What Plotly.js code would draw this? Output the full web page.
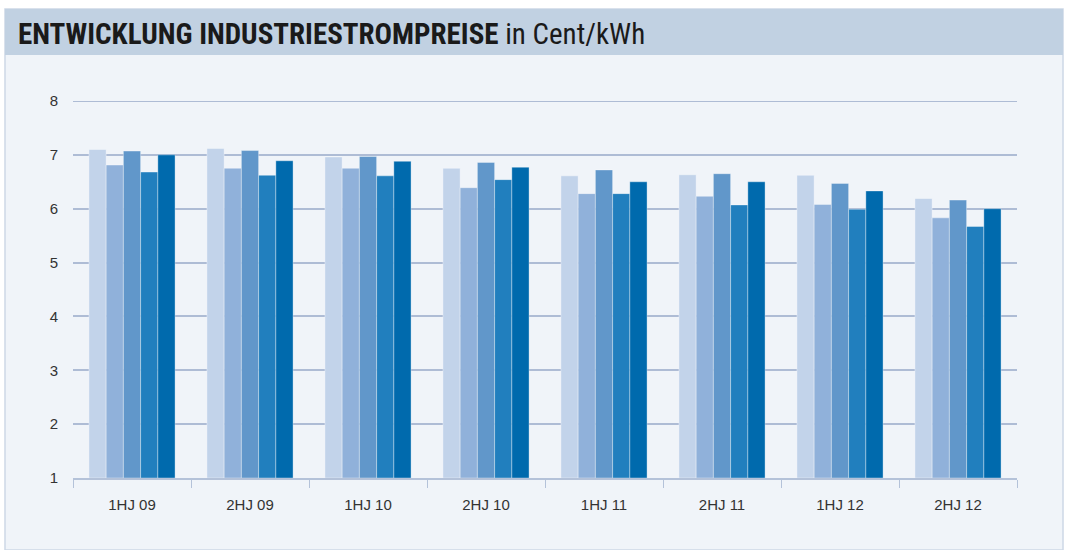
<!DOCTYPE html>
<html>
<head>
<meta charset="utf-8">
<script src="https://cdn.plot.ly/plotly-3.0.1.min.js"></script>
<style>
html,body{margin:0;padding:0;background:#ffffff;}
#chart{width:1069px;height:550px;}
</style>
</head>
<body>
<div id="chart"></div>
<script>
// Data
const categories = ["1HJ 09","2HJ 09","1HJ 10","2HJ 10","1HJ 11","2HJ 11","1HJ 12","2HJ 12"];
const series1 = [7.10, 7.12, 6.96, 6.75, 6.61, 6.63, 6.62, 6.19];
const series2 = [6.81, 6.75, 6.75, 6.39, 6.28, 6.23, 6.08, 5.83];
const series3 = [7.07, 7.08, 6.97, 6.86, 6.72, 6.65, 6.47, 6.16];
const series4 = [6.68, 6.62, 6.61, 6.54, 6.28, 6.07, 5.99, 5.67];
const series5 = [7.00, 6.89, 6.88, 6.77, 6.50, 6.50, 6.33, 6.00];
const yTicks = [1,2,3,4,5,6,7,8];

const allSeries = [series1, series2, series3, series4, series5];
const colors = ["#c2d3ea", "#90b1da", "#6197ca", "#217fbe", "#006aad"];

const W = 1069, H = 550;
const L = 73, R = 1017, T = 101, B = 478;
const px = x => (x - L) / (R - L);
const py = y => (B - y) / (B - T);

const traces = allSeries.map((s, i) => ({
  type: "bar",
  x: categories,
  y: s.map(v => v - 1),
  base: 1,
  name: "Reihe " + (i + 1),
  marker: {color: colors[i], line: {color: "rgba(255,255,255,0.35)", width: 1}},
  hoverinfo: "x+y",
  showlegend: false
}));

const yMax = yTicks[yTicks.length - 1];

const layout = {
  width: W, height: H,
  margin: {l: L, r: W - R, t: T, b: H - B, pad: 0},
  paper_bgcolor: "#ffffff",
  plot_bgcolor: "rgba(0,0,0,0)",
  barmode: "group",
  bargap: 0.27,
  bargroupgap: 0,
  font: {family: "Liberation Sans, Arial, sans-serif", size: 15, color: "#333333"},
  title: {
    text: "<b>ENTWICKLUNG INDUSTRIESTROMPREISE</b> in Cent/kWh",
    font: {family: "Liberation Sans Narrow, Roboto Condensed, Liberation Sans, sans-serif", size: 29, color: "#1a1a1a"},
    xref: "container", yref: "container",
    x: 18 / W, xanchor: "left",
    y: 1 - 34 / H, yanchor: "middle"
  },
  xaxis: {
    type: "category",
    showgrid: false,
    showline: true, linecolor: "#b4c2d9", linewidth: 2,
    ticks: "outside", tickson: "boundaries", ticklen: 8, tickcolor: "#b4c2d9", tickwidth: 1,
    ticklabelstandoff: 12,
    tickfont: {size: 15, color: "#333333"},
    fixedrange: true
  },
  yaxis: {
    range: [1, 8],
    tickvals: yTicks,
    ticktext: yTicks.map(String),
    showgrid: true, gridcolor: "#aebcd5", gridwidth: 2,
    zeroline: false, showline: false, ticks: "",
    ticklabelstandoff: 14,
    tickfont: {size: 15, color: "#333333"},
    fixedrange: true
  },
  shapes: [
    {type: "rect", xref: "paper", yref: "paper", layer: "below",
     x0: px(5), x1: px(1063), y0: py(550), y1: py(9),
     fillcolor: "#f0f4f9", line: {color: "#cdd8e6", width: 1.5}},
    {type: "rect", xref: "paper", yref: "paper", layer: "below",
     x0: px(5), x1: px(1063), y0: py(55), y1: py(9),
     fillcolor: "#c1d1e2", line: {width: 0}},
    {type: "line", xref: "paper", yref: "y", layer: "below",
     x0: 0, x1: 1, y0: yMax, y1: yMax,
     line: {color: "#aebcd5", width: 2}}
  ]
};

Plotly.newPlot("chart", traces, layout, {displayModeBar: false, staticPlot: true});
</script>
</body>
</html>
